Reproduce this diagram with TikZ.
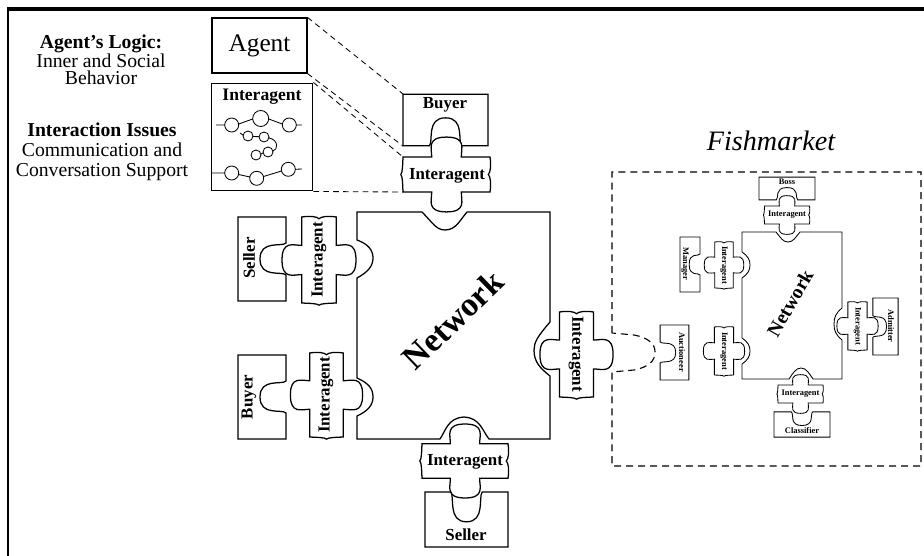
\documentclass[tikz,border=0pt]{standalone}
\usepackage{fontspec}
\setmainfont{Liberation Serif}
\usepackage{tikz}
\usetikzlibrary{positioning}

\begin{document}
\begin{tikzpicture}[
        x=0.025cm, y=-0.025cm,
        pw/.style={line width=0.9pt, fill=white},
        lbl/.style={font=\fontsize{12}{12}\selectfont\bfseries, inner sep=0pt},
        tinylbl/.style={font=\fontsize{6}{6}\selectfont\bfseries, inner sep=0pt},
        link/.style={draw, line width=0.6pt, dash pattern=on 4pt off 3pt},
        fishline/.style={draw, line width=0.8pt, dash pattern=on 5pt off 3.5pt},
        interagent/.pic={
            \draw[pw] (-1,-0.4) -- (-0.34,-0.4)
                .. controls (-0.34,-0.6) and (-0.46,-0.86) .. (0,-0.86)
                .. controls (0.46,-0.86) and (0.34,-0.6) .. (0.34,-0.4)
                -- (1,-0.4) .. controls (1.03,-0.2) and (1.01,-0.05) .. (0.96,0)
                .. controls (1.01,0.05) and (1.03,0.2) .. (1,0.4)
                -- (0.34,0.4)
                .. controls (0.34,0.6) and (0.46,0.86) .. (0,0.86)
                .. controls (-0.46,0.86) and (-0.34,0.6) .. (-0.34,0.4)
                -- (-1,0.4) .. controls (-1.01,0.2) and (-1.01,0.05) .. (-1.05,0)
                .. controls (-1.01,-0.05) and (-1.01,-0.2) .. (-1,-0.4) -- cycle;
        },
        socket/.pic={
            \draw[pw] (-1,-0.6) -- (1,-0.6) -- (1,0.6) -- (0.38,0.6)
                .. controls (0.28,0.5) and (0.46,-0.05) .. (0,-0.05)
                .. controls (-0.46,-0.05) and (-0.28,0.5) .. (-0.38,0.6)
                -- (-1,0.6) -- cycle;
        }
    ]
    \useasboundingbox (0,0) rectangle (924,556);

    % Frame
    \draw[line width=2.3pt] (7,9) -- (924,9);
    \draw[line width=1.6pt] (8,8) -- (8,556);

    % Agent description
    \node[align=center, font=\fontsize{14}{12}\selectfont] (logic) at (101,60) {\textbf{Agent's Logic:}\\Inner and Social\\Behavior};
    \node[align=center, font=\fontsize{14}{14.2}\selectfont] (issues) at (102,152) {\textbf{Interaction Issues}\\Communication and\\Conversation Support};
    \node[draw, line width=0.9pt, minimum width=67.4pt, minimum height=39pt, font=\fontsize{18}{18}\selectfont] (agent) at (259.5,45.5) {Agent};
    \node[draw, line width=0.9pt, minimum width=72.3pt, minimum height=76.6pt] (iabox) at (262,137) {};
    \node[lbl, font=\fontsize{12.5}{12.5}\selectfont\bfseries] (iaboxTxt) at (262,97) {Interagent};

    % Conversation chains
    \draw[line width=0.6pt] (216,125) -- (224.7,125) (231.7,125) circle[radius=7]
        (238.7,124) -- (252.7,119) (260.7,118.5) circle[radius=8]
        (268.7,119) -- (282.3,124) (289.3,125) circle[radius=7] (296.3,125) -- (302,125);
    \draw[line width=0.6pt] (240,133) -- (243,135) (248,136) circle[radius=5]
        (253,136.5) -- (259,136.7) (264,137) circle[radius=5]
        (269,138) .. controls (279,140) and (278,150) .. (273,151) (268,152) circle[radius=5]
        (263,153) -- (261,154) (256,155) circle[radius=5];
    \draw[line width=0.6pt] (212,173) -- (224.7,173) (231.7,173) circle[radius=7]
        (238.5,174.5) -- (250,177) (256.7,178.3) circle[radius=7]
        (263.5,176.5) -- (281.5,171) (288.3,169.3) circle[radius=7] (295.3,169.3) -- (302,169);

    % Main network
    \draw[pw] (357,212) -- (422,212)
        .. controls (432,222) and (436,230) .. (445,230)
        .. controls (456,230) and (460,220) .. (467,212)
        -- (550,212) -- (550,322)
        .. controls (538,336) and (534,342) .. (534,350)
        .. controls (534,362) and (540,368) .. (550,376)
        -- (550,439) -- (489,439)
        .. controls (482,430) and (480,418) .. (464,417)
        .. controls (448,418) and (446,430) .. (440,439)
        -- (357,439) -- (357,416)
        .. controls (368,411) and (373,405) .. (373,397)
        .. controls (373,388) and (368,383) .. (357,378)
        -- (357,278)
        .. controls (368,272) and (373,266) .. (373,258)
        .. controls (373,250) and (368,244) .. (357,240)
        -- cycle;
    \node[font=\fontsize{24}{24}\selectfont\bfseries, rotate=44, inner sep=0pt] (netMainTxt) at (453,320) {Network};

    % Main pieces
    \pic[shift={(445.5,120)}, xscale=42.5, yscale=43] {socket};
    \pic[shift={(446.5,174.5)}, scale=43.5] {interagent};
    \pic[shift={(262,259)}, rotate=90, xscale=42, yscale=40] {socket};
    \pic[shift={(319,260)}, rotate=90, scale=43] {interagent};
    \pic[shift={(262,397)}, rotate=90, xscale=42, yscale=40] {socket};
    \pic[shift={(326.5,395)}, rotate=90, scale=42] {interagent};
    \pic[shift={(576.5,354.5)}, rotate=90, scale=42.5] {interagent};
    \pic[shift={(465,461)}, scale=43] {interagent};
    \pic[shift={(466.5,519.5)}, rotate=180, xscale=41.5, yscale=46] {socket};

    \node[lbl] (buyerTop) at (445,105) {Buyer};
    \node[lbl] (iaTopTxt) at (447,176) {Interagent};
    \node[lbl, rotate=90] (sellerLeft) at (249,258) {Seller};
    \node[lbl, rotate=90] (iaSellerTxt) at (319,260) {Interagent};
    \node[lbl, rotate=90] (buyerLeft) at (249,397) {Buyer};
    \node[lbl, rotate=90] (iaBuyerTxt) at (326,395) {Interagent};
    \node[lbl, rotate=-90] (iaRightTxt) at (576,354) {Interagent};
    \node[lbl] (iaBottomTxt) at (465,462) {Interagent};
    \node[lbl] (sellerBottom) at (466,535) {Seller};

    % Links to the agent description
    \coordinate (buyerNW) at (403,94);
    \coordinate (buyerSW) at (403,146);
    \coordinate (iaTopNW) at (403,157);
    \coordinate (iaTopSW) at (403,192);
    \draw[link] (agent.north east) -- (buyerNW);
    \draw[link] (agent.south east) -- (buyerSW);
    \draw[link] (iabox.north east) -- (iaTopNW);
    \draw[link] (iabox.south east) -- (iaTopSW);

    % Fishmarket
    \node[font=\fontsize{20}{20}\selectfont\itshape] (fishTxt) at (771,141) {Fishmarket};
    \draw[fishline] (612,333) -- (612,172) -- (921,172) -- (921,466) -- (612,466) -- (612,372)
        -- (634,370) .. controls (649,367) and (655,361) .. (655,352)
        .. controls (655,344) and (649,338) .. (634,335) -- cycle;

    \begin{scope}[pw/.style={line width=0.6pt, fill=white}]
        \draw[pw] (742,232) -- (776,232)
            .. controls (781,238) and (783,242) .. (788,242)
            .. controls (793,242) and (795,238) .. (800,232)
            -- (842,232) -- (842,308)
            .. controls (836,313) and (834,317) .. (834,324)
            .. controls (834,331) and (836,335) .. (842,340)
            -- (842,379) -- (813,379)
            .. controls (809,373) and (806,368) .. (801,368)
            .. controls (796,368) and (793,373) .. (789,379)
            -- (742,379) -- (742,364)
            .. controls (748,360) and (750,356) .. (750,351)
            .. controls (750,346) and (748,342) .. (742,338)
            -- (742,278)
            .. controls (748,274) and (750,270) .. (750,265)
            .. controls (750,260) and (748,256) .. (742,252) -- cycle;

        \pic[shift={(787,188.5)}, xscale=28, yscale=19] {socket};
        \pic[shift={(787,215)}, scale=22.5] {interagent};
        \pic[shift={(690,264.5)}, rotate=90, xscale=27.5, yscale=16.7] {socket};
        \pic[shift={(724,265)}, rotate=90, scale=23] {interagent};
        \pic[shift={(674.5,352.5)}, rotate=-90, xscale=27.5, yscale=24] {socket};
        \pic[shift={(724,351)}, rotate=90, scale=24] {interagent};
        \pic[shift={(885.5,326.5)}, rotate=-90, xscale=28.5, yscale=21] {socket};
        \pic[shift={(857.5,326)}, rotate=90, scale=24] {interagent};
        \pic[shift={(802,424.5)}, rotate=180, xscale=28, yscale=21] {socket};
        \pic[shift={(800.5,394)}, scale=22.5] {interagent};
    \end{scope}

    \node[font=\fontsize{14}{14}\selectfont\bfseries, rotate=60, inner sep=0pt] (netFishTxt) at (790,303) {Network};
    \node[tinylbl] (bossTxt) at (787,182) {Boss};
    \node[tinylbl] (iaBossTxt) at (787,215) {Interagent};
    \node[tinylbl, rotate=-90] (managerTxt) at (685,264) {Manager};
    \node[tinylbl, rotate=-90] (iaManagerTxt) at (724,265) {Interagent};
    \node[tinylbl, rotate=-90] (auctTxt) at (682,352) {Auctioneer};
    \node[tinylbl, rotate=-90] (iaAuctTxt) at (724,351) {Interagent};
    \node[tinylbl, rotate=-90] (admitterTxt) at (891,326) {Admitter};
    \node[tinylbl, rotate=-90] (iaAdmTxt) at (857.5,326) {Interagent};
    \node[tinylbl] (classTxt) at (802,431) {Classifier};
    \node[tinylbl] (iaClassTxt) at (800.5,394) {Interagent};
\end{tikzpicture}
\end{document}
